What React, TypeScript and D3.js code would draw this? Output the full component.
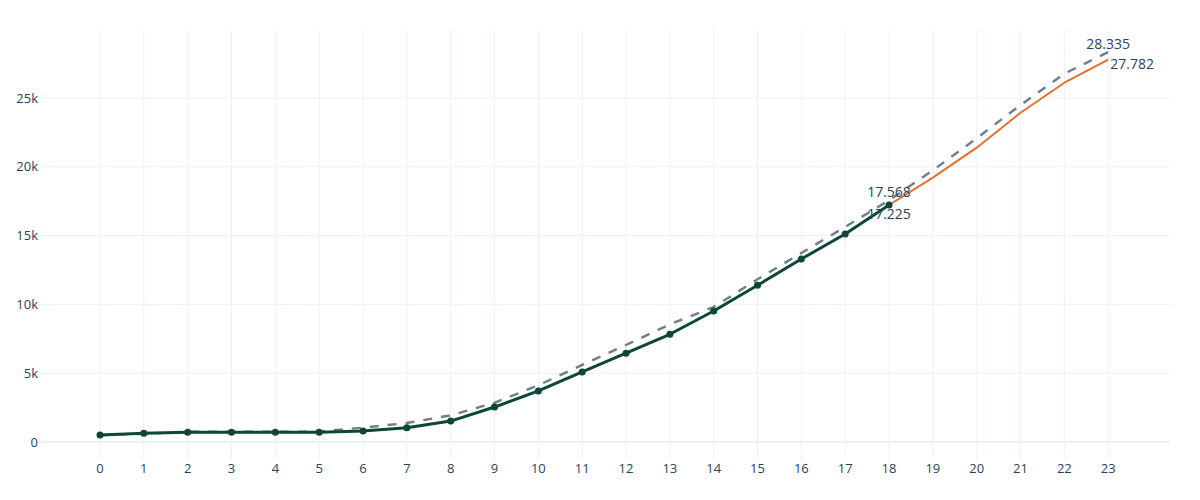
import React, { useRef, useEffect } from 'react';
import * as d3 from 'd3';

// observed series (x = 0..18)
const actualX = [0, 1, 2, 3, 4, 5, 6, 7, 8, 9, 10, 11, 12, 13, 14, 15, 16, 17, 18];
const actualY = [500, 630, 700, 700, 700, 700, 800, 1040, 1520, 2540, 3710, 5090, 6450, 7830, 9520, 11390, 13300, 15120, 17225];

// forecast continuation (x = 18..23)
const forecastX = [18, 19, 20, 21, 22, 23];
const forecastY = [17225, 19210, 21390, 23930, 26110, 27782];

// comparison (dashed) series
const compareX = [0, 1, 2, 3, 4, 5, 6, 7, 8, 9, 10, 11, 12, 13, 14, 15, 16, 17, 18, 19, 20, 21, 22, 23];
const compareY = [500, 600, 750, 750, 750, 760, 1040, 1380, 1940, 2850, 4120, 5600, 7050, 8550, 9810, 11820, 13740, 15630, 17568, 19745, 22070, 24490, 26770, 28335];

const xTicks = d3.range(0, 24);
const yTicks = [0, 5000, 10000, 15000, 20000, 25000];

const App: React.FC = () => {
    const ref = useRef<SVGSVGElement | null>(null);

    useEffect(() => {
        if (!ref.current) return;
        const W = 1200, H = 500;
        const left = 40, right = 1170, top = 30, bottom = 460;
        const font = '"Open Sans", "Noto Sans", sans-serif';
        const textColor = '#2a3f5f';
        const grid = '#ebf0f8';

        const svg = d3.select(ref.current);
        svg.selectAll('*').remove();
        svg.attr('width', W).attr('height', H);

        const x = d3.scaleLinear().domain([-1.369, 24.41]).range([left, right]);
        const y = d3.scaleLinear().domain([-1381, 29869]).range([bottom + 1, top + 1]);

        // vertical grid
        svg.append('g').selectAll('line').data(xTicks).join('line')
            .attr('x1', d => x(d)).attr('x2', d => x(d))
            .attr('y1', top).attr('y2', bottom)
            .attr('stroke', grid).attr('stroke-width', 1);

        // horizontal grid
        svg.append('g').selectAll('line').data(yTicks.filter(d => d !== 0)).join('line')
            .attr('x1', left).attr('x2', right)
            .attr('y1', d => y(d)).attr('y2', d => y(d))
            .attr('stroke', grid).attr('stroke-width', 1);

        // zero line
        svg.append('line')
            .attr('x1', left - 4).attr('x2', right)
            .attr('y1', y(0)).attr('y2', y(0))
            .attr('stroke', grid).attr('stroke-width', 2);

        // x tick labels
        svg.append('g').selectAll('text').data(xTicks).join('text')
            .attr('x', d => x(d)).attr('y', 473)
            .attr('text-anchor', 'middle')
            .attr('font-family', font).attr('font-size', 13).attr('fill', textColor)
            .text(d => String(d));

        // y tick labels
        const fmtK = (d: number) => (d === 0 ? '0' : `${d / 1000}k`);
        svg.append('g').selectAll('text').data(yTicks).join('text')
            .attr('x', 38).attr('y', d => y(d))
            .attr('dy', '0.35em')
            .attr('text-anchor', 'end')
            .attr('font-family', font).attr('font-size', 13).attr('fill', textColor)
            .text(d => fmtK(d));

        const line = d3.line<[number, number]>()
            .x(d => x(d[0])).y(d => y(d[1]));

        const compare = compareX.map((v, i) => [v, compareY[i]] as [number, number]);
        const actual = actualX.map((v, i) => [v, actualY[i]] as [number, number]);
        const forecast = forecastX.map((v, i) => [v, forecastY[i]] as [number, number]);

        svg.append('path').datum(compare)
            .attr('d', line).attr('fill', 'none')
            .attr('stroke', '#6f7c91').attr('stroke-width', 2.4)
            .attr('stroke-dasharray', '9,9');

        svg.append('path').datum(forecast)
            .attr('d', line).attr('fill', 'none')
            .attr('stroke', '#e8702a').attr('stroke-width', 2)
            .attr('stroke-linejoin', 'round');

        svg.append('path').datum(actual)
            .attr('d', line).attr('fill', 'none')
            .attr('stroke', '#0e4736').attr('stroke-width', 3)
            .attr('stroke-linejoin', 'round');

        svg.append('g').selectAll('circle').data(actual).join('circle')
            .attr('cx', d => x(d[0])).attr('cy', d => y(d[1]))
            .attr('r', 3.5).attr('fill', '#0e4736');

        // value labels
        const lab = (px: number, py: number, t: string, anchor: string) =>
            svg.append('text')
                .attr('x', px).attr('y', py)
                .attr('text-anchor', anchor)
                .attr('font-family', font).attr('font-size', 14).attr('fill', textColor)
                .text(t);

        const n = compareX.length - 1;
        const a = actualX.length - 1;
        const f = forecastX.length - 1;
        const fmt = (v: number) => (v / 1000).toFixed(3);

        lab(x(compareX[a]), y(compareY[a]) - 3, fmt(compareY[a]), 'middle');
        lab(x(actualX[a]), y(actualY[a]) + 14, fmt(actualY[a]), 'middle');
        lab(x(compareX[n]), y(compareY[n]) - 3, fmt(compareY[n]), 'middle');
        lab(x(forecastX[f]) + 2, y(forecastY[f]) + 9, fmt(forecastY[f]), 'start');
    }, []);

    return (
        <div>
            <svg ref={ref} style={{ display: 'block', margin: -8 }} />
        </div>
    );
};

export default App;
